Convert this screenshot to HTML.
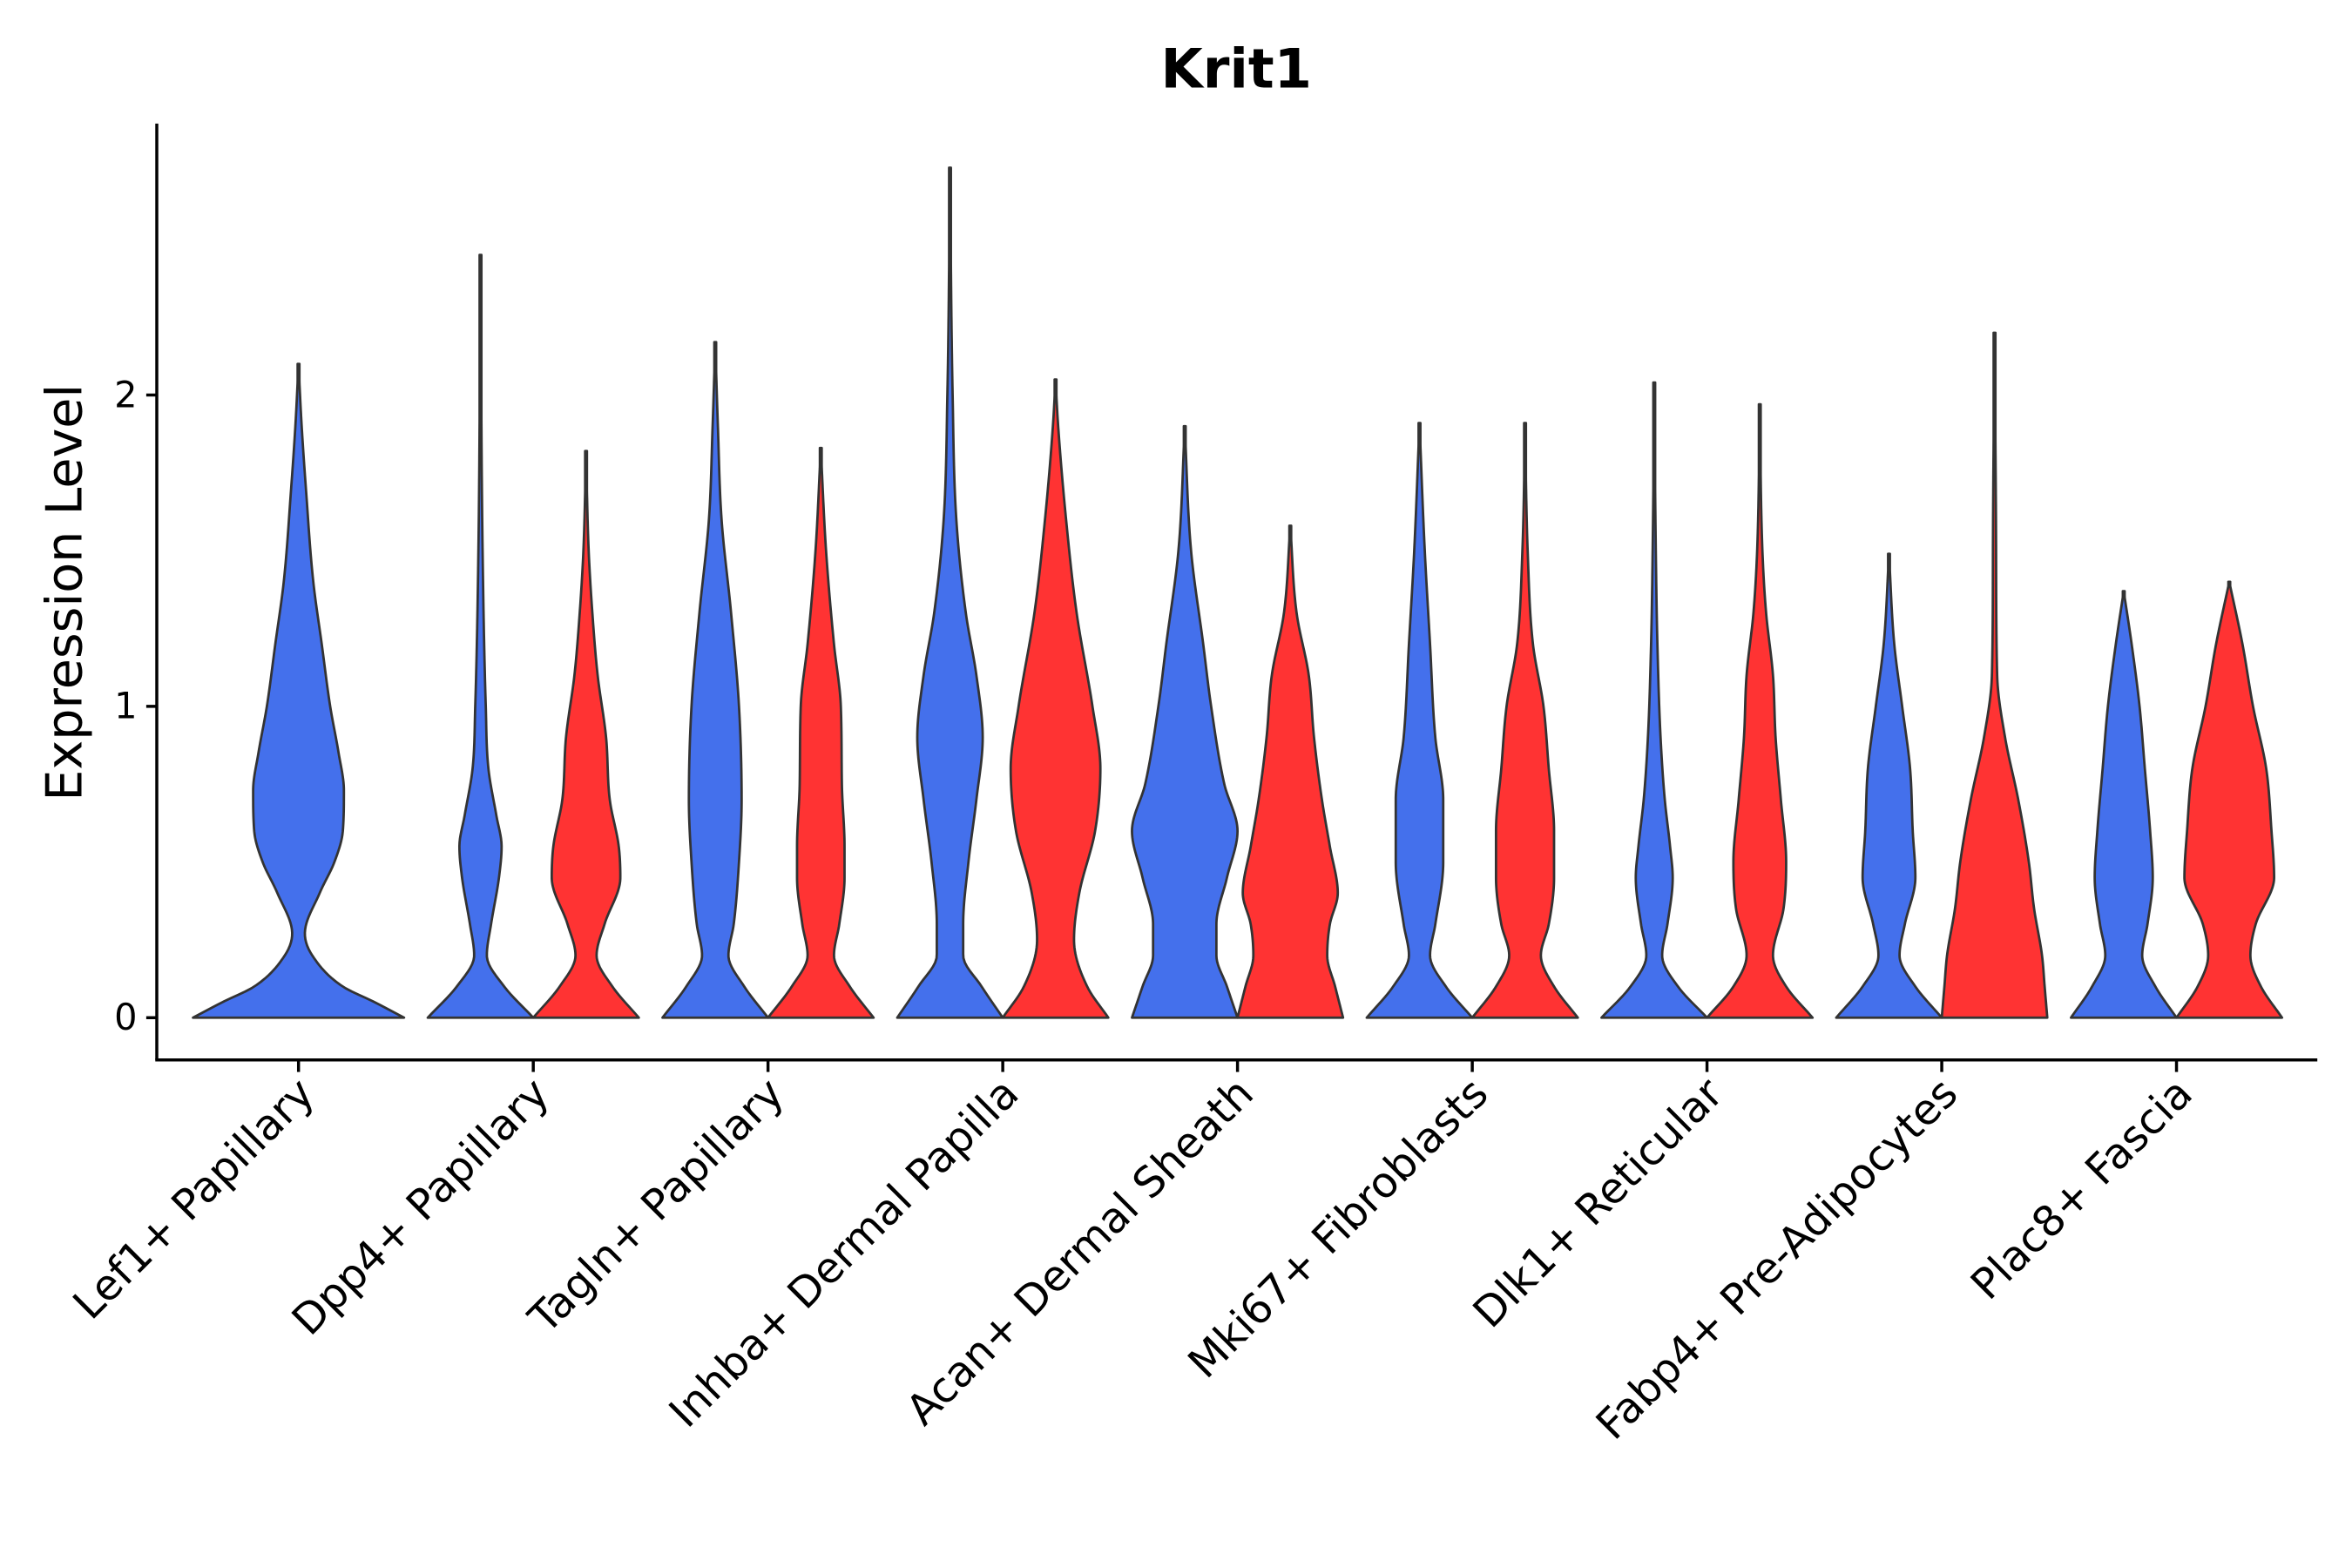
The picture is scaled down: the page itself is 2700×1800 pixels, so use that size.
<!DOCTYPE html>
<html><head><meta charset="utf-8"><style>html,body{margin:0;padding:0;background:#fff}svg{display:block}</style></head>
<body>
<svg id="chart" width="2700" height="1800" viewBox="0 0 1560 1040" xmlns="http://www.w3.org/2000/svg" font-family="'DejaVu Sans','Liberation Sans',sans-serif">
<rect width="1560" height="1040" fill="#fff"/>
<text x="820" y="58" text-anchor="middle" font-size="36" font-weight="bold">Krit1</text>
<text transform="translate(54,393) rotate(-90)" text-anchor="middle" font-size="33">Expression Level</text>
<g id="plot"></g>
</svg>
<script>
const categories = ["Lef1+ Papillary","Dpp4+ Papillary","Tagln+ Papillary","Inhba+ Dermal Papilla","Acan+ Dermal Sheath","Mki67+ Fibroblasts","Dlk1+ Reticular","Fabp4+ Pre-Adipocytes","Plac8+ Fascia"];
const yTicks = [0,1,2];
const violinCategory = [0,1,1,2,2,3,3,4,4,5,5,6,6,7,7,8,8];
const violinGroup    = [0,0,1,0,1,0,1,0,1,0,1,0,1,0,1,0,1];
const violinSolo     = [1,0,0,0,0,0,0,0,0,0,0,0,0,0,0,0,0];
const violinProfiles = [
 [[0,1],[0.05,0.72],[0.1,0.42],[0.2,0.13],[0.27,0.06],[0.4,0.2],[0.5,0.34],[0.6,0.42],[0.73,0.43],[0.85,0.38],[1.0,0.3],[1.2,0.22],[1.4,0.14],[1.7,0.07],[1.9,0.03],[2.1,0]],
 [[0,1],[0.1,0.45],[0.2,0.12],[0.3,0.2],[0.45,0.35],[0.55,0.4],[0.65,0.3],[0.8,0.15],[1.0,0.1],[1.5,0.04],[2.45,0]],
 [[0,1],[0.1,0.5],[0.2,0.2],[0.3,0.35],[0.45,0.65],[0.55,0.62],[0.7,0.45],[0.9,0.38],[1.1,0.22],[1.3,0.12],[1.5,0.05],[1.82,0]],
 [[0,1],[0.1,0.55],[0.2,0.25],[0.3,0.35],[0.5,0.45],[0.7,0.5],[1.0,0.45],[1.3,0.3],[1.6,0.12],[1.9,0.05],[2.17,0]],
 [[0,1],[0.1,0.55],[0.2,0.25],[0.3,0.35],[0.45,0.45],[0.55,0.45],[0.75,0.4],[1.0,0.38],[1.2,0.25],[1.5,0.1],[1.83,0]],
 [[0,1],[0.1,0.6],[0.2,0.25],[0.3,0.25],[0.5,0.35],[0.7,0.5],[0.9,0.62],[1.1,0.5],[1.3,0.3],[1.6,0.12],[2.0,0.05],[2.73,0]],
 [[0,1],[0.1,0.6],[0.25,0.35],[0.4,0.45],[0.6,0.75],[0.8,0.85],[1.0,0.7],[1.3,0.4],[1.6,0.2],[1.9,0.05],[2.05,0]],
 [[0,1],[0.1,0.8],[0.2,0.6],[0.3,0.6],[0.45,0.8],[0.6,1.0],[0.75,0.75],[1.0,0.5],[1.2,0.35],[1.5,0.12],[1.9,0]],
 [[0,1],[0.1,0.85],[0.2,0.7],[0.3,0.75],[0.4,0.9],[0.55,0.75],[0.7,0.6],[0.9,0.45],[1.1,0.35],[1.3,0.12],[1.58,0]],
 [[0,1],[0.1,0.5],[0.2,0.2],[0.3,0.3],[0.5,0.45],[0.7,0.45],[0.9,0.3],[1.2,0.2],[1.5,0.1],[1.91,0]],
 [[0,1],[0.1,0.55],[0.2,0.3],[0.3,0.45],[0.45,0.55],[0.6,0.55],[0.8,0.45],[1.0,0.35],[1.2,0.15],[1.5,0.05],[1.91,0]],
 [[0,1],[0.1,0.45],[0.2,0.15],[0.3,0.25],[0.45,0.35],[0.55,0.3],[0.7,0.2],[0.9,0.12],[1.2,0.06],[1.5,0.03],[2.04,0]],
 [[0,1],[0.1,0.5],[0.2,0.25],[0.35,0.45],[0.5,0.5],[0.7,0.4],[0.9,0.3],[1.1,0.25],[1.3,0.12],[1.5,0.05],[1.97,0]],
 [[0,1],[0.1,0.5],[0.2,0.2],[0.3,0.3],[0.45,0.5],[0.6,0.45],[0.8,0.4],[1.0,0.25],[1.2,0.1],[1.49,0]],
 [[0,1],[0.1,0.95],[0.2,0.9],[0.35,0.75],[0.5,0.65],[0.7,0.45],[0.9,0.2],[1.1,0.05],[1.5,0.03],[2.2,0]],
 [[0,1],[0.1,0.6],[0.2,0.35],[0.3,0.45],[0.45,0.55],[0.6,0.5],[0.8,0.4],[1.0,0.3],[1.2,0.15],[1.37,0]],
 [[0,1],[0.1,0.6],[0.2,0.4],[0.3,0.5],[0.45,0.85],[0.6,0.8],[0.8,0.7],[1.0,0.45],[1.2,0.25],[1.4,0]]
];
const groupColors = ["#4470EC","#FF3333"];

const NS="http://www.w3.org/2000/svg";
const plot=document.getElementById('plot');
const x0=104, x1=1537, yTop=82, yBase=703;
const y = v => 675 - v*206.5;
const step = 155.7, first = 198;
const xCat = i => first + i*step;
function mk(tag, attrs){const e=document.createElementNS(NS,tag);for(const k in attrs)e.setAttribute(k,attrs[k]);plot.appendChild(e);return e;}

function makeInterp(p){
  const n=p.length, xs=p.map(a=>a[0]), ys=p.map(a=>a[1]);
  const d=[], m=new Array(n);
  for(let i=0;i<n-1;i++) d.push((ys[i+1]-ys[i])/(xs[i+1]-xs[i]));
  m[0]=d[0]; m[n-1]=d[n-2];
  for(let i=1;i<n-1;i++) m[i]=(d[i-1]*d[i]<=0)?0:(d[i-1]+d[i])/2;
  for(let i=0;i<n-1;i++){
    if(d[i]===0){m[i]=0;m[i+1]=0;continue;}
    const a=m[i]/d[i], b=m[i+1]/d[i], s=a*a+b*b;
    if(s>9){const t=3/Math.sqrt(s);m[i]=t*a*d[i];m[i+1]=t*b*d[i];}
  }
  return v=>{
    for(let i=0;i<n-1;i++){
      if(v>=xs[i]&&v<=xs[i+1]){
        const h=xs[i+1]-xs[i], t=(v-xs[i])/h, t2=t*t, t3=t2*t;
        return (2*t3-3*t2+1)*ys[i]+(t3-2*t2+t)*h*m[i]+(-2*t3+3*t2)*ys[i+1]+(t3-t2)*h*m[i+1];
      }
    }
    return 0;
  };
}
violinProfiles.forEach((p,k)=>{
  const solo=violinSolo[k];
  const half = solo?70:35;
  const cx = solo? xCat(violinCategory[k]) : xCat(violinCategory[k]) + (violinGroup[k]?35:-35);
  const vmax = p[p.length-1][0];
  const f=makeInterp(p);
  const N=200, L=[], R=[];
  for(let i=0;i<=N;i++){
    const v=vmax*i/N;
    const w=Math.max(f(v)*half, 0.6);
    L.push((cx-w).toFixed(2)+','+y(v).toFixed(2));
    R.push((cx+w).toFixed(2)+','+y(v).toFixed(2));
  }
  const d='M'+L.join(' L')+' L'+R.reverse().join(' L')+' Z';
  const el=mk('path',{d:d,fill:groupColors[violinGroup[k]],stroke:'#333',"stroke-width":1.6,"stroke-linejoin":"round"});
  
  
});

const ya=mk('line',{x1:x0,y1:yTop,x2:x0,y2:yBase,stroke:'#000',"stroke-width":2});


const xa=mk('line',{x1:x0-1,y1:yBase,x2:x1,y2:yBase,stroke:'#000',"stroke-width":2});


yTicks.forEach(t=>{
  const l=mk('line',{x1:x0-7,y1:y(t),x2:x0,y2:y(t),stroke:'#000',"stroke-width":2});
  
  
  const tx=mk('text',{x:x0-13,y:y(t)+8,"text-anchor":"end","font-size":24,fill:'#000'});
  tx.textContent=t;
  
  
});
categories.forEach((c,i)=>{
  const cx=xCat(i);
  const l=mk('line',{x1:cx,y1:yBase,x2:cx,y2:yBase+8,stroke:'#000',"stroke-width":2});
  
  
  const tx=mk('text',{transform:`translate(${cx+12},${yBase+24}) rotate(-45)`,"text-anchor":"end","font-size":28,fill:'#000'});
  tx.textContent=c;
  
  
});
</script>
</body></html>
